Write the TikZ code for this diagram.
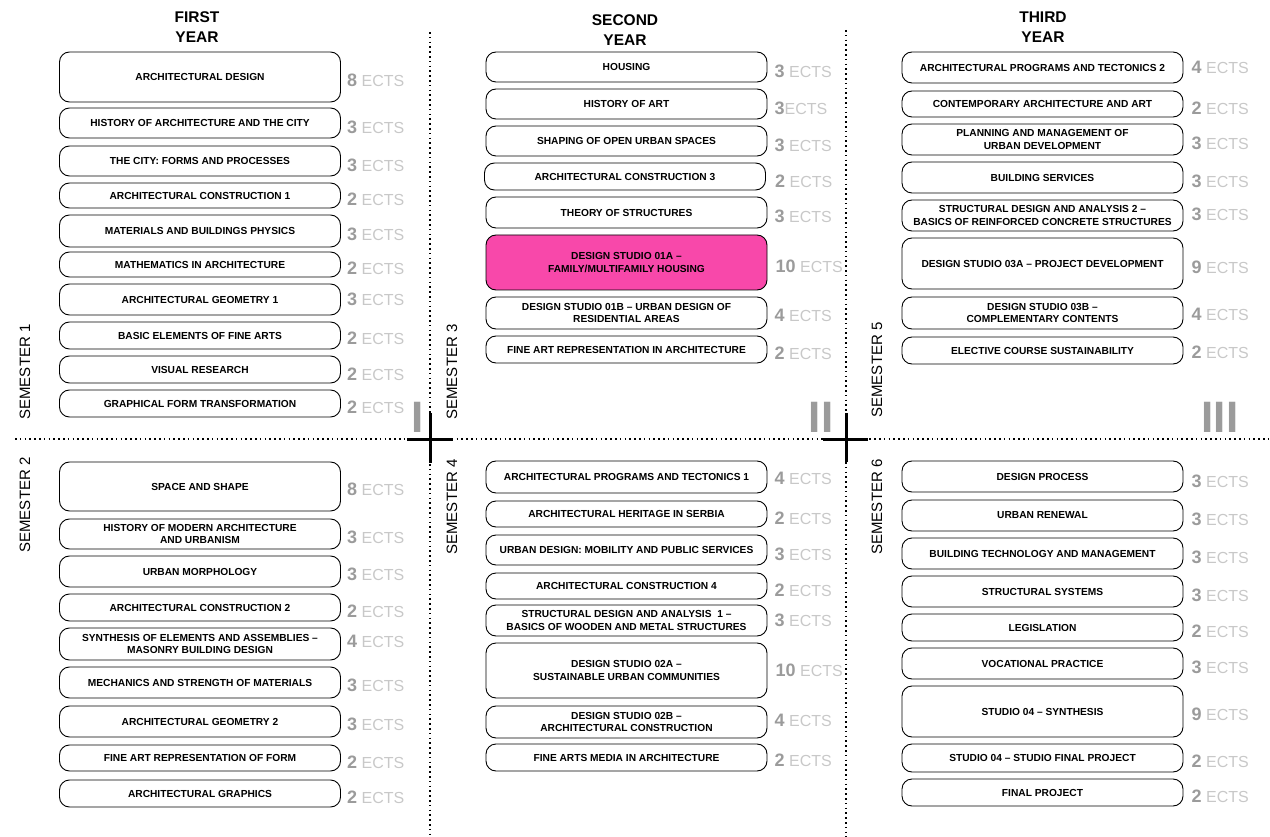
\documentclass[tikz,border=0pt]{standalone}
\usepackage{fontspec}
\setmainfont{Liberation Sans}
\usepackage{tikz}
\usetikzlibrary{shapes}
\definecolor{ects_num}{RGB}{155,155,155}
\definecolor{ects_txt}{RGB}{200,200,200}
\definecolor{roman_grey}{RGB}{155,155,155}
\definecolor{studio_pink}{RGB}{248,72,170}
\tikzstyle{cb}=[rectangle,rounded corners=10pt,draw=black,line width=0.9pt,
  fill=white,minimum width=281pt,inner sep=2pt,align=center,
  font=\fontsize{10.2}{12.5}\selectfont\bfseries]
\tikzstyle{pb}=[cb,fill=studio_pink]
\tikzstyle{ec}=[anchor=west,inner sep=0pt,font=\fontsize{16}{16}\selectfont]
\tikzstyle{sem}=[rotate=90,inner sep=0pt,font=\fontsize{15}{15}\selectfont]
\tikzstyle{yr}=[align=center,inner sep=0pt,font=\fontsize{15.5}{19.5}\selectfont\bfseries]
\tikzstyle{rom}=[anchor=base,inner sep=0pt,text=roman_grey,
  font=\fontsize{44}{44}\selectfont\bfseries]
\tikzstyle{sep}=[line width=1.6pt,dash pattern=on 1.6pt off 3.2pt]
\tikzstyle{crs}=[line width=3pt]
\newcommand{\ects}[1]{{\fontsize{18}{18}\selectfont\bfseries\color{ects_num}#1} {\color{ects_txt}ECTS}}
\begin{document}
\begin{tikzpicture}[x=1pt,y=-1pt]
    \useasboundingbox (0,0) rectangle (1270,837);
    % separators
    \draw[sep] (15,439) -- (1270,439);
    \draw[sep] (430,32) -- (430,837);
    \draw[sep] (846,30) -- (846,837);
    \draw[crs] (407,439) -- (453,439);
    \draw[crs] (430,413) -- (430,463);
    \draw[crs] (823,439) -- (868,439);
    \draw[crs] (846,413) -- (846,462);
    \node[rom] (one) at (418,432) {I};
    \node[rom] (two) at (821,432) {II};
    \node[rom] (three) at (1220,432) {III};
    % headers
    \node[yr] (first) at (197,27) {FIRST\\YEAR};
    \node[yr] (second) at (625,30) {SECOND\\YEAR};
    \node[yr] (third) at (1043,27) {THIRD\\YEAR};
    \node[sem] (sem1) at (25,372) {SEMESTER 1};
    \node[sem] (sem2) at (25,505) {SEMESTER 2};
    \node[sem] (sem3) at (452,372) {SEMESTER 3};
    \node[sem] (sem4) at (452,507) {SEMESTER 4};
    \node[sem] (sem5) at (877,370) {SEMESTER 5};
    \node[sem] (sem6) at (877,507) {SEMESTER 6};
    % first year
    \node[cb,minimum height=50pt] (archdesign) at (200,77) {ARCHITECTURAL DESIGN};
    \node[cb,minimum height=30pt] (histarch) at (200,123) {HISTORY OF ARCHITECTURE AND THE CITY};
    \node[cb,minimum height=30pt] (city) at (200,161) {THE CITY: FORMS AND PROCESSES};
    \node[cb,minimum height=25pt] (constr1) at (200,195.5) {ARCHITECTURAL CONSTRUCTION 1};
    \node[cb,minimum height=32pt] (physics) at (200,231) {MATERIALS AND BUILDINGS PHYSICS};
    \node[cb,minimum height=25pt] (maths) at (200,264.5) {MATHEMATICS IN ARCHITECTURE};
    \node[cb,minimum height=31pt] (geom1) at (200,299.5) {ARCHITECTURAL GEOMETRY 1};
    \node[cb,minimum height=27pt] (finearts) at (200,335.5) {BASIC ELEMENTS OF FINE ARTS};
    \node[cb,minimum height=27pt] (visual) at (200,369.5) {VISUAL RESEARCH};
    \node[cb,minimum height=27pt] (graphform) at (200,403.5) {GRAPHICAL FORM TRANSFORMATION};
    \node[cb,minimum height=49pt] (space) at (200,486.5) {SPACE AND SHAPE};
    \node[cb,minimum height=30pt] (histmod) at (200,534) {HISTORY OF MODERN ARCHITECTURE\\AND URBANISM};
    \node[cb,minimum height=31pt] (morph) at (200,571.5) {URBAN MORPHOLOGY};
    \node[cb,minimum height=27pt] (constr2) at (200,607.5) {ARCHITECTURAL CONSTRUCTION 2};
    \node[cb,minimum height=32pt] (synth) at (200,644) {SYNTHESIS OF ELEMENTS AND ASSEMBLIES --\\MASONRY BUILDING DESIGN};
    \node[cb,minimum height=31pt] (mech) at (200,682.5) {MECHANICS AND STRENGTH OF MATERIALS};
    \node[cb,minimum height=31pt] (geom2) at (200,721.5) {ARCHITECTURAL GEOMETRY 2};
    \node[cb,minimum height=26pt] (artform) at (200,758) {FINE ART REPRESENTATION OF FORM};
    \node[cb,minimum height=27pt] (graphics) at (200,793.5) {ARCHITECTURAL GRAPHICS};
    % second year
    \node[cb,minimum height=30pt] (housing) at (626.5,67) {HOUSING};
    \node[cb,minimum height=30pt] (histart) at (626.5,104) {HISTORY OF ART};
    \node[cb,minimum height=30pt] (openspace) at (626.5,141) {SHAPING OF OPEN URBAN SPACES};
    \node[cb,minimum height=27pt] (constr3) at (625,176.5) {ARCHITECTURAL CONSTRUCTION 3};
    \node[cb,minimum height=31pt] (theory) at (626.5,212.5) {THEORY OF STRUCTURES};
    \node[pb,minimum height=55pt] (studio1a) at (626.5,262.5) {DESIGN STUDIO 01A --\\FAMILY/MULTIFAMILY HOUSING};
    \node[cb,minimum height=32pt] (studio1b) at (626.5,313) {DESIGN STUDIO 01B -- URBAN DESIGN OF\\RESIDENTIAL AREAS};
    \node[cb,minimum height=27pt] (artrep) at (626.5,349.5) {FINE ART REPRESENTATION IN ARCHITECTURE};
    \node[cb,minimum height=32pt] (tect1) at (626.5,477) {ARCHITECTURAL PROGRAMS AND TECTONICS 1};
    \node[cb,minimum height=26pt] (heritage) at (626.5,514) {ARCHITECTURAL HERITAGE IN SERBIA};
    \node[cb,minimum height=30pt] (mobility) at (626.5,550) {URBAN DESIGN: MOBILITY AND PUBLIC SERVICES};
    \node[cb,minimum height=26pt] (constr4) at (626.5,586) {ARCHITECTURAL CONSTRUCTION 4};
    \node[cb,minimum height=31pt] (struct1) at (626.5,620.5) {STRUCTURAL DESIGN AND ANALYSIS\ \ 1 --\\BASICS OF WOODEN AND METAL STRUCTURES};
    \node[cb,minimum height=55pt] (studio2a) at (626.5,670.5) {DESIGN STUDIO 02A --\\SUSTAINABLE URBAN COMMUNITIES};
    \node[cb,minimum height=32pt] (studio2b) at (626.5,722) {DESIGN STUDIO 02B --\\ARCHITECTURAL CONSTRUCTION};
    \node[cb,minimum height=27pt] (media) at (626.5,757.5) {FINE ARTS MEDIA IN ARCHITECTURE};
    % third year
    \node[cb,minimum height=31pt] (tect2) at (1042.5,67.5) {ARCHITECTURAL PROGRAMS AND TECTONICS 2};
    \node[cb,minimum height=26pt] (contemp) at (1042.5,104) {CONTEMPORARY ARCHITECTURE AND ART};
    \node[cb,minimum height=31pt] (planning) at (1042.5,139.5) {PLANNING AND MANAGEMENT OF\\URBAN DEVELOPMENT};
    \node[cb,minimum height=31pt] (services) at (1042.5,177.5) {BUILDING SERVICES};
    \node[cb,minimum height=31pt] (struct2) at (1042.5,215.5) {STRUCTURAL DESIGN AND ANALYSIS 2 --\\BASICS OF REINFORCED CONCRETE STRUCTURES};
    \node[cb,minimum height=51pt] (studio3a) at (1042.5,263.5) {DESIGN STUDIO 03A -- PROJECT DEVELOPMENT};
    \node[cb,minimum height=32pt] (studio3b) at (1042.5,313) {DESIGN STUDIO 03B --\\COMPLEMENTARY CONTENTS};
    \node[cb,minimum height=27pt] (elective) at (1042.5,350.5) {ELECTIVE COURSE SUSTAINABILITY};
    \node[cb,minimum height=31pt] (process) at (1042.5,476.5) {DESIGN PROCESS};
    \node[cb,minimum height=31pt] (renewal) at (1042.5,515.5) {URBAN RENEWAL};
    \node[cb,minimum height=31pt] (buildtech) at (1042.5,553.5) {BUILDING TECHNOLOGY AND MANAGEMENT};
    \node[cb,minimum height=31pt] (systems) at (1042.5,591.5) {STRUCTURAL SYSTEMS};
    \node[cb,minimum height=27pt] (legis) at (1042.5,627.5) {LEGISLATION};
    \node[cb,minimum height=31pt] (practice) at (1042.5,663.5) {VOCATIONAL PRACTICE};
    \node[cb,minimum height=51pt] (studio4) at (1042.5,711.5) {STUDIO 04 -- SYNTHESIS};
    \node[cb,minimum height=28pt] (studiofinal) at (1042.5,758) {STUDIO 04 -- STUDIO FINAL PROJECT};
    \node[cb,minimum height=27pt] (final) at (1042.5,792.5) {FINAL PROJECT};
    % credits
    \node[ec] (archdesignc) at ([xshift=6pt,yshift=-3pt]archdesign.east) {\ects{8}};
    \node[ec] (histarchc) at ([xshift=6pt,yshift=-4pt]histarch.east) {\ects{3}};
    \node[ec] (cityc) at ([xshift=6pt,yshift=-4pt]city.east) {\ects{3}};
    \node[ec] (constr1c) at ([xshift=6pt,yshift=-4pt]constr1.east) {\ects{2}};
    \node[ec] (physicsc) at ([xshift=6pt,yshift=-3pt]physics.east) {\ects{3}};
    \node[ec] (mathsc) at ([xshift=6pt,yshift=-4pt]maths.east) {\ects{2}};
    \node[ec] (geom1c) at ([xshift=6pt,yshift=0pt]geom1.east) {\ects{3}};
    \node[ec] (fineartsc) at ([xshift=6pt,yshift=-3pt]finearts.east) {\ects{2}};
    \node[ec] (visualc) at ([xshift=6pt,yshift=-5pt]visual.east) {\ects{2}};
    \node[ec] (graphformc) at ([xshift=6pt,yshift=-4pt]graphform.east) {\ects{2}};
    \node[ec] (spacec) at ([xshift=6pt,yshift=-3pt]space.east) {\ects{8}};
    \node[ec] (histmodc) at ([xshift=6pt,yshift=-3pt]histmod.east) {\ects{3}};
    \node[ec] (morphc) at ([xshift=6pt,yshift=-3pt]morph.east) {\ects{3}};
    \node[ec] (constr2c) at ([xshift=6pt,yshift=-4pt]constr2.east) {\ects{2}};
    \node[ec] (synthc) at ([xshift=6pt,yshift=3pt]synth.east) {\ects{4}};
    \node[ec] (mechc) at ([xshift=6pt,yshift=-3pt]mech.east) {\ects{3}};
    \node[ec] (geom2c) at ([xshift=6pt,yshift=-3pt]geom2.east) {\ects{3}};
    \node[ec] (artformc) at ([xshift=6pt,yshift=-4pt]artform.east) {\ects{2}};
    \node[ec] (graphicsc) at ([xshift=6pt,yshift=-4pt]graphics.east) {\ects{2}};
    \node[ec] (housingc) at ([xshift=7pt,yshift=-4pt]housing.east) {\ects{3}};
    \node[ec] (histartc) at ([xshift=7pt,yshift=-4pt]histart.east) {{\fontsize{18}{18}\selectfont\bfseries\color{ects_num}3}{\color{ects_txt}ECTS}};
    \node[ec] (openspacec) at ([xshift=7pt,yshift=-4pt]openspace.east) {\ects{3}};
    \node[ec] (constr3c) at ([xshift=9pt,yshift=-5pt]constr3.east) {\ects{2}};
    \node[ec] (theoryc) at ([xshift=7pt,yshift=-4pt]theory.east) {\ects{3}};
    \node[ec] (studio1ac) at ([xshift=8pt,yshift=-4pt]studio1a.east) {\ects{10}};
    \node[ec] (studio1bc) at ([xshift=7pt,yshift=-2pt]studio1b.east) {\ects{4}};
    \node[ec] (artrepc) at ([xshift=7pt,yshift=-4pt]artrep.east) {\ects{2}};
    \node[ec] (tect1c) at ([xshift=7pt,yshift=-1pt]tect1.east) {\ects{4}};
    \node[ec] (heritagec) at ([xshift=7pt,yshift=-4pt]heritage.east) {\ects{2}};
    \node[ec] (mobilityc) at ([xshift=7pt,yshift=-4pt]mobility.east) {\ects{3}};
    \node[ec] (constr4c) at ([xshift=7pt,yshift=-4pt]constr4.east) {\ects{2}};
    \node[ec] (struct1c) at ([xshift=7pt,yshift=0pt]struct1.east) {\ects{3}};
    \node[ec] (studio2ac) at ([xshift=8pt,yshift=0pt]studio2a.east) {\ects{10}};
    \node[ec] (studio2bc) at ([xshift=7pt,yshift=2pt]studio2b.east) {\ects{4}};
    \node[ec] (mediac) at ([xshift=7pt,yshift=-3pt]media.east) {\ects{2}};
    \node[ec] (tect2c) at ([xshift=8pt,yshift=0pt]tect2.east) {\ects{4}};
    \node[ec] (contempc) at ([xshift=8pt,yshift=-4pt]contemp.east) {\ects{2}};
    \node[ec] (planningc) at ([xshift=8pt,yshift=-4pt]planning.east) {\ects{3}};
    \node[ec] (servicesc) at ([xshift=8pt,yshift=-4pt]services.east) {\ects{3}};
    \node[ec] (struct2c) at ([xshift=8pt,yshift=1pt]struct2.east) {\ects{3}};
    \node[ec] (studio3ac) at ([xshift=8pt,yshift=-4pt]studio3a.east) {\ects{9}};
    \node[ec] (studio3bc) at ([xshift=8pt,yshift=-1pt]studio3b.east) {\ects{4}};
    \node[ec] (electivec) at ([xshift=8pt,yshift=-2pt]elective.east) {\ects{2}};
    \node[ec] (processc) at ([xshift=8pt,yshift=-5pt]process.east) {\ects{3}};
    \node[ec] (renewalc) at ([xshift=8pt,yshift=-4pt]renewal.east) {\ects{3}};
    \node[ec] (buildtechc) at ([xshift=8pt,yshift=-4pt]buildtech.east) {\ects{3}};
    \node[ec] (systemsc) at ([xshift=8pt,yshift=-4pt]systems.east) {\ects{3}};
    \node[ec] (legisc) at ([xshift=8pt,yshift=-4pt]legis.east) {\ects{2}};
    \node[ec] (practicec) at ([xshift=8pt,yshift=-4pt]practice.east) {\ects{3}};
    \node[ec] (studio4c) at ([xshift=8pt,yshift=-3pt]studio4.east) {\ects{9}};
    \node[ec] (studiofinalc) at ([xshift=8pt,yshift=-3pt]studiofinal.east) {\ects{2}};
    \node[ec] (finalc) at ([xshift=8pt,yshift=-4pt]final.east) {\ects{2}};
  \end{tikzpicture}
\end{document}
